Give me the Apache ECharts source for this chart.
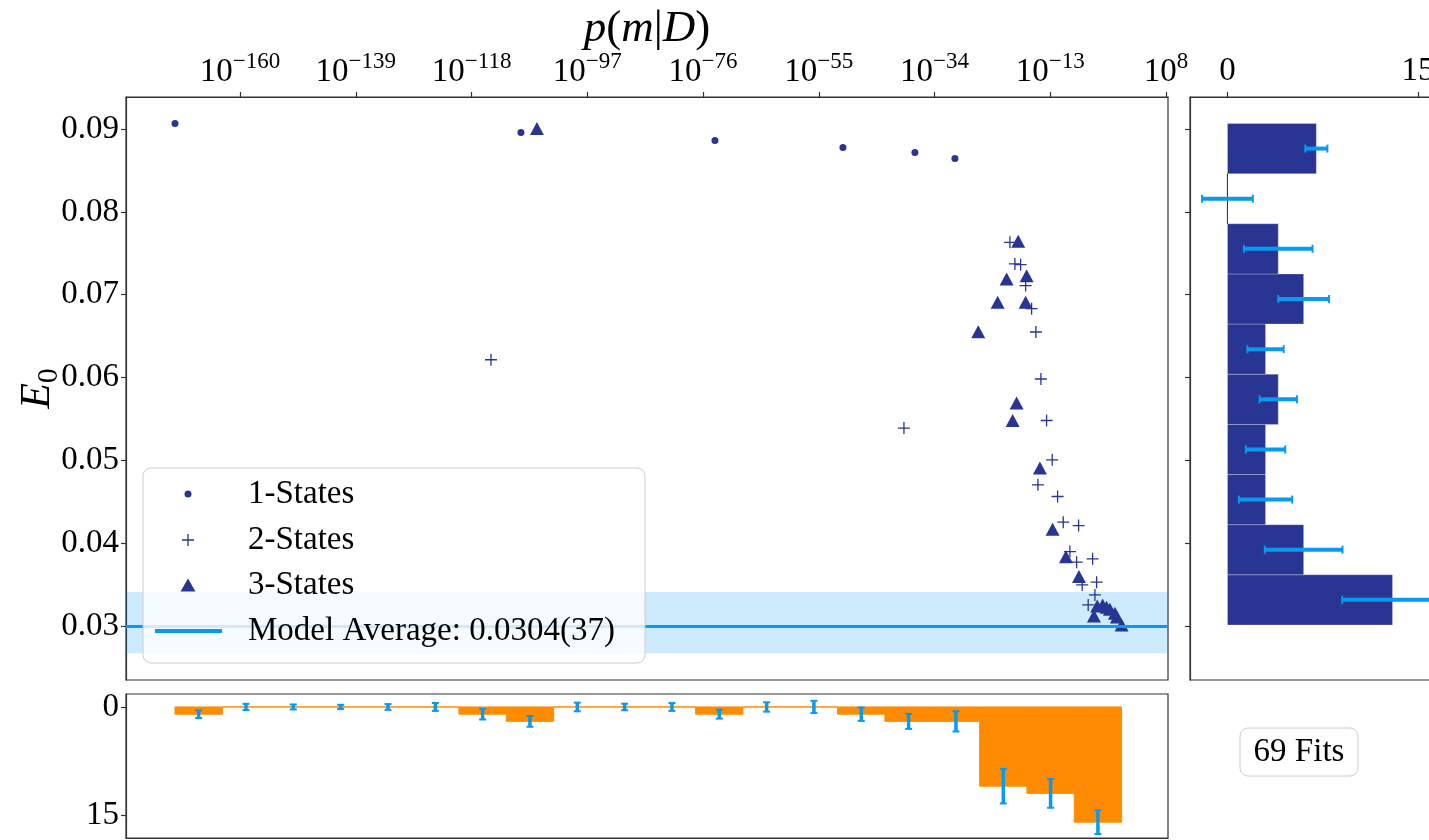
<!DOCTYPE html>
<html>
<head>
<meta charset="utf-8">
<script src="https://cdn.jsdelivr.net/npm/echarts@6/dist/echarts.min.js"></script>
<style>
  html, body { margin: 0; padding: 0; background: #fff; }
  #chart { width: 1429px; height: 840px; }
</style>
</head>
<body>
<div id="chart"></div>
<script>
// [log10 p(m|D), E0] for every fit
const oneStates = [
  [-171.81, 0.09068], [-109.04, 0.08959], [-73.84, 0.08862],
  [-50.62, 0.08778], [-37.56, 0.08717], [-30.30, 0.08645]
];
const twoStates = [
  [-114.48, 0.06215], [-39.55, 0.0539], [-20.32, 0.07633], [-19.42, 0.07372],
  [-18.38, 0.07363], [-17.47, 0.0711], [-16.39, 0.06831], [-15.61, 0.0655],
  [-14.70, 0.05982], [-13.67, 0.05481], [-12.65, 0.05006], [-15.24, 0.04704],
  [-11.67, 0.04563], [-10.65, 0.04253], [-7.86, 0.04212], [-9.44, 0.03898],
  [-8.22, 0.0377], [-5.32, 0.0381], [-4.59, 0.03528], [-7.21, 0.03495],
  [-4.90, 0.03374], [-6.12, 0.03254]
];
const threeStates = [
  [-106.14, 0.09007], [-18.82, 0.07645], [-20.92, 0.0719], [-17.29, 0.0723],
  [-22.55, 0.06908], [-17.47, 0.06908], [-26.07, 0.06553], [-19.11, 0.05692],
  [-19.83, 0.05481], [-14.88, 0.04906], [-12.58, 0.04169], [-10.16, 0.03837],
  [-7.80, 0.03596], [-4.48, 0.03241], [-3.50, 0.03254], [-2.78, 0.03226],
  [-2.18, 0.03202], [-1.27, 0.03153], [-0.91, 0.03108], [-5.08, 0.03121],
  [-0.06, 0.03012]
];

const modelAvg = 0.0304;
const modelErr = 0.0037;

const pTicks = [-160, -139, -118, -97, -76, -55, -34, -13, 8];
const e0Ticks = [0.03, 0.04, 0.05, 0.06, 0.07, 0.08, 0.09];

// right panel: histogram of E0
const e0Edges = [0.03012, 0.03618, 0.04223, 0.04829, 0.05434, 0.0604,
                 0.06646, 0.07251, 0.07857, 0.08462, 0.09068];
const e0Counts = [13, 6, 3, 3, 4, 3, 6, 4, 0, 7];
const e0Err = [3.97, 3.06, 2.1, 1.55, 1.47, 1.43, 2.0, 2.7, 2.0, 0.87];

// bottom panel: histogram of log10 p(m|D)
const pEdges = [-171.81, -163.22, -154.64, -146.05, -137.46, -128.87, -120.29,
                -111.70, -103.11, -94.52, -85.94, -77.35, -68.76, -60.17,
                -51.59, -43.00, -34.41, -25.82, -17.24, -8.65, -0.06];
const pCounts = [1, 0, 0, 0, 0, 0, 1, 2, 0, 0, 0, 1, 0, 0, 1, 2, 2, 11, 12, 16];
const pErr = [0.53, 0.43, 0.35, 0.3, 0.4, 0.55, 0.74, 0.75, 0.6, 0.45,
              0.55, 0.62, 0.65, 0.85, 0.93, 1.05, 1.4, 2.4, 2.0, 1.65];

const FONT = 'Liberation Serif';
const navy = '#283593';
const orange = '#ff8c00';
const errBlue = '#069AF3';
const plusPath = 'path://M0,5.35H12V6.65H0Z M5.35,0H6.65V12H5.35Z';

const chart = echarts.init(document.getElementById('chart'));

const gridBase = {
  show: true, borderColor: '#333', borderWidth: 1.2,
  backgroundColor: 'transparent', containLabel: false, outerBoundsMode: 'none'
};
const tickStyle = { length: 5, lineStyle: { color: '#333', width: 1.2 } };
const lineOff = { show: true, onZero: false, lineStyle: { color: '#333', width: 1.2 } };
const lbl = { fontFamily: FONT, fontSize: 33, color: '#000' };

function hBar(params, api) {
  const c = api.value(2);
  const a = api.coord([0, api.value(0)]);
  const b = api.coord([c, api.value(1)]);
  return {
    type: 'rect',
    shape: { x: a[0], y: b[1], width: b[0] - a[0], height: a[1] - b[1] },
    style: { fill: navy, stroke: c > 0 ? 'rgba(255,255,255,0.45)' : navy, lineWidth: c > 0 ? 0.6 : 1 }
  };
}
function hErr(params, api) {
  const y = api.value(0), c = api.value(1), e = api.value(2);
  const a = api.coord([c - e, y]), b = api.coord([c + e, y]);
  return {
    type: 'group',
    children: [
      { type: 'line', shape: { x1: a[0], y1: a[1], x2: b[0], y2: b[1] }, style: { stroke: errBlue, lineWidth: 4 } },
      { type: 'line', shape: { x1: a[0], y1: a[1] - 4, x2: a[0], y2: a[1] + 4 }, style: { stroke: errBlue, lineWidth: 2 } },
      { type: 'line', shape: { x1: b[0], y1: b[1] - 4, x2: b[0], y2: b[1] + 4 }, style: { stroke: errBlue, lineWidth: 2 } }
    ]
  };
}
function vBar(params, api) {
  const a = api.coord([api.value(0), 0]);
  const b = api.coord([api.value(1), api.value(2)]);
  return {
    type: 'rect',
    shape: { x: a[0], y: Math.min(a[1], b[1]), width: b[0] - a[0], height: Math.abs(b[1] - a[1]) },
    style: { fill: orange, stroke: orange, lineWidth: 1 }
  };
}
function vErr(params, api) {
  const x = api.value(0), c = api.value(1), e = api.value(2);
  const a = api.coord([x, c - e]), b = api.coord([x, c + e]);
  return {
    type: 'group',
    children: [
      { type: 'line', shape: { x1: a[0], y1: a[1], x2: b[0], y2: b[1] }, style: { stroke: errBlue, lineWidth: 3.5 } },
      { type: 'line', shape: { x1: a[0] - 3.5, y1: a[1], x2: a[0] + 3.5, y2: a[1] }, style: { stroke: errBlue, lineWidth: 2 } },
      { type: 'line', shape: { x1: b[0] - 3.5, y1: b[1], x2: b[0] + 3.5, y2: b[1] }, style: { stroke: errBlue, lineWidth: 2 } }
    ]
  };
}

const legendBase = {
  orient: 'vertical', padding: 0, selectedMode: false, z: 20
};
function legendText(pad) {
  return { fontFamily: FONT, fontSize: 33, color: '#000', padding: [0, 0, 0, pad] };
}

chart.setOption({
  animation: false,
  backgroundColor: '#fff',
  grid: [
    Object.assign({ left: 126, top: 97, width: 1042, height: 583 }, gridBase),
    Object.assign({ left: 1190, top: 97, width: 265, height: 583 }, gridBase),
    Object.assign({ left: 126, top: 694, width: 1042, height: 144 }, gridBase)
  ],
  xAxis: [
    {
      gridIndex: 0, type: 'value', position: 'top', min: -180.7, max: 8.36,
      axisLine: lineOff, splitLine: { show: false },
      axisTick: Object.assign({ customValues: pTicks }, tickStyle),
      axisLabel: {
        customValues: pTicks, margin: 8,
        formatter: v => '{b|10}{s|' + (v < 0 ? '\u2212' : '') + Math.abs(v) + '}',
        rich: {
          b: { fontFamily: FONT, fontSize: 33, color: '#000', padding: [6, 0, 0, 0] },
          s: { fontFamily: FONT, fontSize: 23, color: '#000', verticalAlign: 'top' }
        }
      },
      name: '{i|p}{r|(}{i|m}{r||}{i|D}{r|)}',
      nameLocation: 'middle', nameGap: 45, nameMoveOverlap: false,
      nameTextStyle: {
        rich: {
          i: { fontFamily: FONT, fontSize: 45, fontStyle: 'italic', color: '#000' },
          r: { fontFamily: FONT, fontSize: 45, color: '#000' }
        }
      }
    },
    {
      gridIndex: 1, type: 'value', position: 'top', min: -2.95, max: 17.92,
      axisLine: lineOff, splitLine: { show: false },
      axisTick: Object.assign({ customValues: [0, 15] }, tickStyle),
      axisLabel: Object.assign({ customValues: [0, 15], margin: 9 }, lbl)
    },
    {
      gridIndex: 2, type: 'value', position: 'bottom', min: -180.7, max: 8.36,
      axisLine: lineOff, splitLine: { show: false },
      axisTick: { show: false }, axisLabel: { show: false }
    }
  ],
  yAxis: [
    {
      gridIndex: 0, type: 'value', min: 0.02347, max: 0.09388,
      axisLine: lineOff, splitLine: { show: false },
      axisTick: Object.assign({ customValues: e0Ticks }, tickStyle),
      axisLabel: Object.assign({ customValues: e0Ticks, margin: 7, formatter: v => v.toFixed(2) }, lbl),
      name: '{e|E}{s|0}', nameLocation: 'middle', nameGap: 62, nameRotate: 90, nameMoveOverlap: false,
      nameTextStyle: {
        rich: {
          e: { fontFamily: FONT, fontSize: 42, fontStyle: 'italic', color: '#000' },
          s: { fontFamily: FONT, fontSize: 30, color: '#000', padding: [22, 0, 0, 0] }
        }
      }
    },
    {
      gridIndex: 1, type: 'value', min: 0.02347, max: 0.09388,
      axisLine: lineOff, splitLine: { show: false },
      axisTick: Object.assign({ customValues: e0Ticks }, tickStyle),
      axisLabel: { show: false }
    },
    {
      gridIndex: 2, type: 'value', min: -1.8, max: 18.2, inverse: true,
      axisLine: lineOff, splitLine: { show: false },
      axisTick: Object.assign({ customValues: [0, 15] }, tickStyle),
      axisLabel: Object.assign({ customValues: [0, 15], margin: 7 }, lbl)
    }
  ],
  legend: [
    Object.assign({ data: [{ name: '1-States', icon: 'circle' }], left: 184.5, top: 477.5,
      itemWidth: 7, itemHeight: 7, textStyle: legendText(51.5) }, legendBase),
    Object.assign({ data: [{ name: '2-States', icon: plusPath }], left: 182, top: 523.5,
      itemWidth: 12, itemHeight: 12, textStyle: legendText(49) }, legendBase),
    Object.assign({ data: [{ name: '3-States', icon: 'triangle' }], left: 180.5, top: 568.5,
      itemWidth: 15, itemHeight: 13, textStyle: legendText(47.5) }, legendBase),
    Object.assign({ data: [{ name: 'Model Average: 0.0304(37)', icon: 'rect' }], left: 155, top: 614.5,
      itemWidth: 67, itemHeight: 4, textStyle: legendText(21) }, legendBase)
  ],
  graphic: [
    {
      type: 'rect', z: 10, silent: true,
      shape: { x: 143, y: 468, width: 502, height: 195, r: 8 },
      style: { fill: 'rgba(255,255,255,0.8)', stroke: '#cccccc', lineWidth: 1 }
    },
    {
      type: 'rect', z: 10, silent: true,
      shape: { x: 1240, y: 728, width: 118, height: 48, r: 8 },
      style: { fill: '#fff', stroke: '#cccccc', lineWidth: 1 }
    },
    {
      type: 'text', z: 11, silent: true, x: 1299, y: 752,
      style: {
        text: '69 Fits', font: '33px "Liberation Serif"', fill: '#000',
        textAlign: 'center', textVerticalAlign: 'middle', align: 'center', verticalAlign: 'middle'
      }
    }
  ],
  series: [
    {
      name: 'Model Average: 0.0304(37)', type: 'line', xAxisIndex: 0, yAxisIndex: 0,
      data: [], color: errBlue, itemStyle: { color: errBlue }, z: 1,
      markLine: {
        silent: true, symbol: ['none', 'none'], label: { show: false },
        lineStyle: { color: errBlue, width: 3, type: 'solid' },
        data: [{ yAxis: modelAvg }]
      },
      markArea: {
        silent: true, itemStyle: { color: 'rgba(6,154,243,0.2)' },
        data: [[{ yAxis: modelAvg - modelErr }, { yAxis: modelAvg + modelErr }]]
      }
    },
    {
      name: '1-States', type: 'scatter', xAxisIndex: 0, yAxisIndex: 0, z: 3,
      symbol: 'circle', symbolSize: 7, itemStyle: { color: navy, opacity: 1 }, data: oneStates
    },
    {
      name: '2-States', type: 'scatter', xAxisIndex: 0, yAxisIndex: 0, z: 3,
      symbol: plusPath, symbolSize: 12, itemStyle: { color: navy, opacity: 1 }, data: twoStates
    },
    {
      name: '3-States', type: 'scatter', xAxisIndex: 0, yAxisIndex: 0, z: 3,
      symbol: 'triangle', symbolSize: [14, 13], itemStyle: { color: navy, opacity: 1 }, data: threeStates
    },
    {
      type: 'custom', xAxisIndex: 1, yAxisIndex: 1, renderItem: hBar, silent: true,
      encode: { x: 2, y: [0, 1] },
      data: e0Counts.map((c, i) => [e0Edges[i], e0Edges[i + 1], c])
    },
    {
      type: 'custom', xAxisIndex: 1, yAxisIndex: 1, renderItem: hErr, silent: true, z: 3,
      encode: { x: 1, y: 0 },
      data: e0Counts.map((c, i) => [(e0Edges[i] + e0Edges[i + 1]) / 2, c, e0Err[i]])
    },
    {
      type: 'custom', xAxisIndex: 2, yAxisIndex: 2, renderItem: vBar, silent: true,
      encode: { x: [0, 1], y: 2 },
      data: pCounts.map((c, i) => [pEdges[i], pEdges[i + 1], c])
    },
    {
      type: 'custom', xAxisIndex: 2, yAxisIndex: 2, renderItem: vErr, silent: true, z: 3,
      encode: { x: 0, y: 1 },
      data: pCounts.map((c, i) => [(pEdges[i] + pEdges[i + 1]) / 2, c, pErr[i]])
    }
  ]
});
</script>
</body>
</html>
